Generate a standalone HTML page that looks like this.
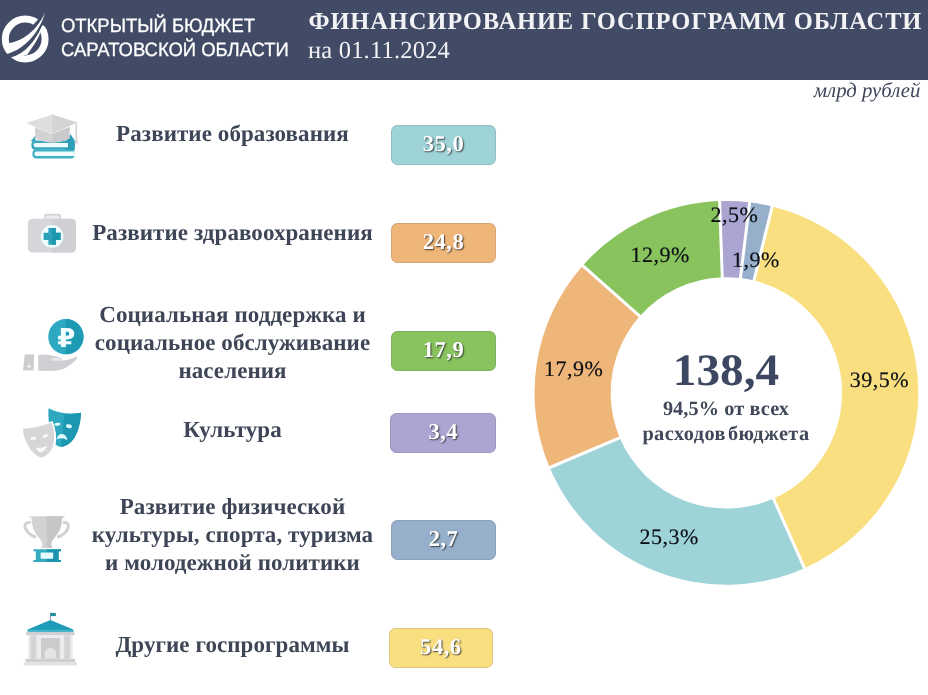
<!DOCTYPE html>
<html lang="ru">
<head>
<meta charset="utf-8">
<title>Финансирование госпрограмм области</title>
<style>
html,body{margin:0;padding:0;background:#fff;}
body{width:928px;height:695px;position:relative;overflow:hidden;font-family:"Liberation Serif",serif;text-rendering:geometricPrecision;}
.abs{position:absolute;white-space:nowrap;line-height:1;}
#hdr{position:absolute;left:0;top:0;width:928px;height:80px;background:#414b66;}
.lt{font-family:"Liberation Sans",sans-serif;font-size:19.4px;color:#fff;-webkit-text-stroke:.3px #fff;transform:scaleX(.951);transform-origin:0 0;}
#title{left:308.5px;top:10.1px;font-weight:bold;font-size:24.5px;letter-spacing:.86px;color:#f3f3f6;}
#sub{left:308px;top:39px;font-size:24.5px;letter-spacing:.2px;color:#f3f3f6;}
#unit{right:7.5px;top:81.4px;font-style:italic;font-size:20.8px;color:#3d4659;}
.lab{position:absolute;left:82px;width:301px;text-align:center;font-weight:bold;font-size:23px;letter-spacing:.08px;color:#3d4556;line-height:28px;white-space:nowrap;}
.pill{position:absolute;width:105px;height:39.7px;border-radius:6.5px;text-align:center;color:#fff;font-weight:bold;font-size:22.6px;line-height:38px;letter-spacing:.5px;text-shadow:1px 1px 1.5px rgba(40,40,40,.85);box-shadow:inset 0 0 0 1px rgba(100,100,110,.2);}
.pc{position:absolute;white-space:nowrap;line-height:1;font-size:22px;letter-spacing:.5px;color:#0c1016;-webkit-text-stroke:.18px #0c1016;}
.ctr{position:absolute;left:626px;width:200px;text-align:center;font-weight:bold;color:#3f4759;white-space:nowrap;line-height:1;}
svg{position:absolute;left:0;top:0;}
</style>
</head>
<body>
<div id="hdr"></div>
<svg width="928" height="695" viewBox="0 0 928 695">
<path d="M772.17 206.49A191.9 191.9 0 0 1 804.45 568.16L773.46 498.55A115.7 115.7 0 0 0 754.00 280.49Z" fill="#f9df80"/>
<path d="M804.45 568.16A191.9 191.9 0 0 1 549.65 467.58L619.83 437.91A115.7 115.7 0 0 0 773.46 498.55Z" fill="#9ed3d8"/>
<path d="M549.65 467.58A191.9 191.9 0 0 1 582.72 265.64L639.77 316.15A115.7 115.7 0 0 0 619.83 437.91Z" fill="#efb679"/>
<path d="M582.72 265.64A191.9 191.9 0 0 1 719.57 201.07L722.28 277.22A115.7 115.7 0 0 0 639.77 316.15Z" fill="#88c35e"/>
<path d="M719.57 201.07A191.9 191.9 0 0 1 749.65 202.36L740.42 278.00A115.7 115.7 0 0 0 722.28 277.22Z" fill="#aaa5d1"/>
<path d="M749.65 202.36A191.9 191.9 0 0 1 772.17 206.49L754.00 280.49A115.7 115.7 0 0 0 740.42 278.00Z" fill="#96b0cc"/>
<path d="M753.28 283.40L772.89 203.58" stroke="#fff" stroke-width="3"/>
<path d="M772.24 495.81L805.67 570.90" stroke="#fff" stroke-width="3"/>
<path d="M622.60 436.74L546.89 468.75" stroke="#fff" stroke-width="3"/>
<path d="M642.02 318.14L580.47 263.65" stroke="#fff" stroke-width="3"/>
<path d="M722.39 280.22L719.46 198.07" stroke="#fff" stroke-width="3"/>
<path d="M740.06 280.98L750.02 199.39" stroke="#fff" stroke-width="3"/>
<defs><filter id="soft" x="-5%" y="-5%" width="110%" height="110%"><feGaussianBlur stdDeviation="0.35"/></filter></defs><g id="logo">
<circle cx="25.2" cy="39" r="19.9" fill="none" stroke="#fff" stroke-width="7"/>
<path d="M46.5 10L7 54L4 58L11.25 57.5C26.7 53.01 36.09 38.56 42.65 24.9L48 29L50 10Z" fill="#414b66"/>
<path d="M45.06 12.42C38.54 27.15 25.79 40.28 9.23 43.01L7.22 53.88C26.32 48.22 39.84 31.05 45.06 12.42Z" fill="#fff"/>
<path d="M42.65 24.90C36.09 38.56 26.70 53.01 11.25 57.50L27.35 54.69C33.48 45.37 40.54 36.19 42.65 24.90Z" fill="#fff"/>
</g>
<g filter="url(#soft)"><g id="ic-edu">
<rect x="31.4" y="140.4" width="43.2" height="9.4" rx="4" fill="#37a7bc"/>
<rect x="32.4" y="149.2" width="42.4" height="9.3" rx="4" fill="#3fb0c5"/>
<path d="M66 141L70.6 134.2L74.8 140.5V150H66Z" fill="#2f9fb6"/>
<path d="M30.8 141L35.5 135.4V142Z" fill="#3aa9be"/>
<path d="M35.6 143H68V147.2H35.6A2.1 2.1 0 0 1 35.6 143Z" fill="#eefcfe"/>
<path d="M36.6 151.5H74.8V156.1H36.6A2.3 2.3 0 0 1 36.6 151.5Z" fill="#eefcfe"/>
<path d="M35 127L52 134L69.5 127V138.5Q52 146.5 35 138.5Z" fill="#d3d3d6"/>
<path d="M52 134L69.5 127V138.5Q61 142.5 52 142.5Z" fill="#cacacd"/>
<path d="M26.2 123L52.1 114.4L77.1 122.4L52.1 133.6Z" fill="#dededf"/>
<path d="M52.1 114.4L77.1 122.4L52.1 133.6Z" fill="#d4d4d6"/>
<path d="M75.5 122.6H77.1V139.5L78 143.5H74.8L75.5 139.5Z" fill="#d6d0d3"/>
</g>
<g id="ic-med">
<path d="M44.8 220V216.6Q44.8 214.6 46.8 214.6H58.2Q60.2 214.6 60.2 216.6V220" fill="#ececee" stroke="#d2d2d6" stroke-width="1.6"/>
<rect x="27.9" y="218.8" width="47.9" height="33.8" rx="4.5" fill="#d6d6da"/>
<path d="M52 218.8H71.3Q75.8 218.8 75.8 223.3V248.1Q75.8 252.6 71.3 252.6H52Z" fill="#d0d0d4"/>
<circle cx="52.1" cy="236.4" r="11.3" fill="#eefcff"/>
<path d="M48.4 228H55.8V232.7H60.6V240.1H55.8V244.8H48.4V240.1H43.6V232.7H48.4Z" fill="#2aa3bb"/>
<path d="M52.1 228H55.8V232.7H60.6V240.1H55.8V244.8H52.1Z" fill="#1f97b0"/>
</g>
<g id="ic-soc">
<circle cx="65.9" cy="336.7" r="18.3" fill="#dff7fb"/>
<circle cx="65.9" cy="336.7" r="17.6" fill="#2ea8c1"/>
<path d="M65.9 319.1A17.6 17.6 0 0 1 65.9 354.3Z" fill="#1a9ab3"/>
<text x="66.2" y="346.8" font-family="'DejaVu Sans','Liberation Sans',sans-serif" font-weight="bold" font-size="26" text-anchor="middle" fill="#f2fdff">₽</text>
<path d="M24.8 354.6L34.2 354.2L33.6 370.2L23 370.6Z" fill="#cdcdd0"/>
<circle cx="29" cy="366.3" r="1.5" fill="#f4f4f6"/>
<path d="M38.2 355.2Q46 353.6 52 355.4L60.5 357.6Q62.4 358.4 61.8 360.4L66 360.2Q72 358.4 76.6 356.4Q78 357.6 76.4 359.6Q70 366.4 62 369.4Q52 372 38.2 370.4Z" fill="#cfcfd3"/>
<path d="M50.5 360.4Q56 361 61.8 360.4Q62.4 358.4 60.5 357.6L52 358.2Z" fill="#e6e6ea"/>
</g>
<g id="ic-cul">
<path d="M48.5 408.2Q63 415.5 81 412.8Q80.5 428 74 438.5Q68.5 446 61.4 447Q58 446.6 55.6 444.8Q57.6 434 52.6 421.4L48.9 422.8Q48 415 48.5 408.2Z" fill="#2ea8c1"/>
<path d="M64.2 414.4Q72 414.4 81 412.8Q80.5 428 74 438.5Q68.5 446 61.4 447Z" fill="#1c98b1"/>
<ellipse cx="57.4" cy="424.3" rx="3.1" ry="1.5" transform="rotate(-8 57.4 424.3)" fill="#dffaff"/>
<ellipse cx="68.9" cy="426.2" rx="3" ry="1.9" transform="rotate(14 68.9 426.2)" fill="#dffaff"/>
<path d="M56.6 439.6Q57.4 434 62 434Q66.6 434.6 67.4 440.2Q62 436.8 56.6 439.6Z" fill="#dffaff"/>
<path d="M22.2 428.2Q38 427 52.2 421.9Q57 436 53.5 447Q49.5 456 41.4 458.4Q32 455.5 26.5 444Q22.5 436 22.2 428.2Z" fill="#d6d6d8" stroke="#fff" stroke-width="1.4"/>
<ellipse cx="33.4" cy="438.4" rx="3" ry="1.5" transform="rotate(-6 33.4 438.4)" fill="#f8f8fa"/>
<ellipse cx="45.3" cy="436" rx="2.9" ry="1.5" transform="rotate(-18 45.3 436)" fill="#f8f8fa"/>
<path d="M35.9 447.6Q42 448.5 47.2 445.6Q45.6 452 40.2 452.4Q37 451.4 35.9 447.6Z" fill="#f8f8fa"/>
</g>
<g id="ic-spo">
<path d="M30.6 522.6Q24.6 522 25 526.4Q26.4 534 36.2 537.2M62.8 522.6Q68.8 522 68.4 526.4Q67 534 57.2 537.2" fill="none" stroke="#d2d2d4" stroke-width="3"/>
<path d="M29.2 516.2H64.3V517.6H62Q62 530 54.6 537.4Q51.4 540.4 51 544.6L52.4 548H41L42.4 544.6Q42 540.4 38.8 537.4Q31.4 530 31.4 517.6H29.2Z" fill="#d2d2d4"/>
<path d="M46.8 516.2H64.3V517.6H62Q62 530 54.6 537.4Q51.4 540.4 51 544.6L52.4 548H46.8Z" fill="#c6c6c8"/>
<path d="M33.4 549.2H61V551.2H58.6V560H61V562H33.4V560H35.8V551.2H33.4Z" fill="#37aac0"/>
<path d="M47 549.2H61V551.2H58.6V560H61V562H47Z" fill="#1f96ad"/>
<rect x="40.6" y="552.6" width="12.6" height="6.2" rx="1" fill="#e6fbff"/>
</g>
<g id="ic-oth">
<rect x="50" y="612.8" width="0.9" height="8" fill="#7a9aa3"/>
<rect x="50.3" y="612.9" width="5.6" height="3.2" fill="#2b8d9f"/>
<path d="M50.4 620L73.2 629.6V632.2H27.8V629.6Z" fill="#1b9cb6"/>
<path d="M27.8 629.8H73.2V632.3H27.8Z" fill="#45b4cb"/>
<rect x="26.1" y="632.2" width="48.4" height="3.2" fill="#d0d0d3"/>
<rect x="28.2" y="635.4" width="44.4" height="23.4" fill="#ececee"/>
<rect x="30.4" y="635.4" width="6" height="23.4" fill="#d4d4d7"/>
<rect x="64.2" y="635.4" width="6" height="23.4" fill="#d4d4d7"/>
<rect x="41" y="638" width="18.8" height="20.8" fill="#cbcbce"/>
<path d="M44.6 658.8V653.6A5.8 5.8 0 0 1 56.2 653.6V658.8Z" fill="#e4e4e6"/>
<rect x="25.6" y="658.8" width="49.6" height="3.6" fill="#cfcfd2"/>
<rect x="23.6" y="662.4" width="53.4" height="3" fill="#e0e0e2"/>
</g>
</g>
</svg>
<div class="abs lt" style="left:60.6px;top:17.2px;">ОТКРЫТЫЙ БЮДЖЕТ</div>
<div class="abs lt" style="left:60.6px;top:40.9px;">САРАТОВСКОЙ ОБЛАСТИ</div>
<div class="abs" id="title">ФИНАНСИРОВАНИЕ ГОСПРОГРАММ ОБЛАСТИ</div>
<div class="abs" id="sub">на 01.11.2024</div>
<div class="abs" id="unit">млрд рублей</div>

<div class="lab" style="top:120.3px;">Развитие образования</div>
<div class="lab" style="top:219.3px;">Развитие здравоохранения</div>
<div class="lab" style="top:301.3px;">Социальная поддержка и<br>социальное обслуживание<br>населения</div>
<div class="lab" style="top:415.5px;">Культура</div>
<div class="lab" style="top:492.6px;">Развитие физической<br>культуры, спорта, туризма<br>и молодежной политики</div>
<div class="lab" style="top:630.7px;">Другие госпрограммы</div>

<div class="pill" style="left:391px;top:125px;background:#9ed3d8;">35,0</div>
<div class="pill" style="left:391px;top:223.2px;background:#efb679;">24,8</div>
<div class="pill" style="left:391px;top:331.1px;background:#88c35e;">17,9</div>
<div class="pill" style="left:390.3px;top:413.2px;background:#aaa5d1;width:106px;">3,4</div>
<div class="pill" style="left:391px;top:520.2px;background:#96b0cc;">2,7</div>
<div class="pill" style="left:388.6px;top:628.4px;background:#f9df80;width:104.6px;">54,6</div>

<div class="pc" style="left:849.7px;top:368.7px;">39,5%</div>
<div class="pc" style="left:639.6px;top:525.6px;">25,3%</div>
<div class="pc" style="left:544px;top:357.9px;">17,9%</div>
<div class="pc" style="left:630.5px;top:243.6px;">12,9%</div>
<div class="pc" style="left:710.5px;top:204.4px;">2,5%</div>
<div class="pc" style="left:732px;top:249.4px;">1,9%</div>

<div class="ctr" style="top:347.9px;font-size:45px;transform:scaleX(1.05);color:#3e4762;">138,4</div>
<div class="ctr" style="top:399px;font-size:20.3px;letter-spacing:.1px;">94,5% от всех</div>
<div class="ctr" style="top:424px;font-size:20.3px;letter-spacing:.45px;word-spacing:-3.5px;">расходов бюджета</div>
</body>
</html>
